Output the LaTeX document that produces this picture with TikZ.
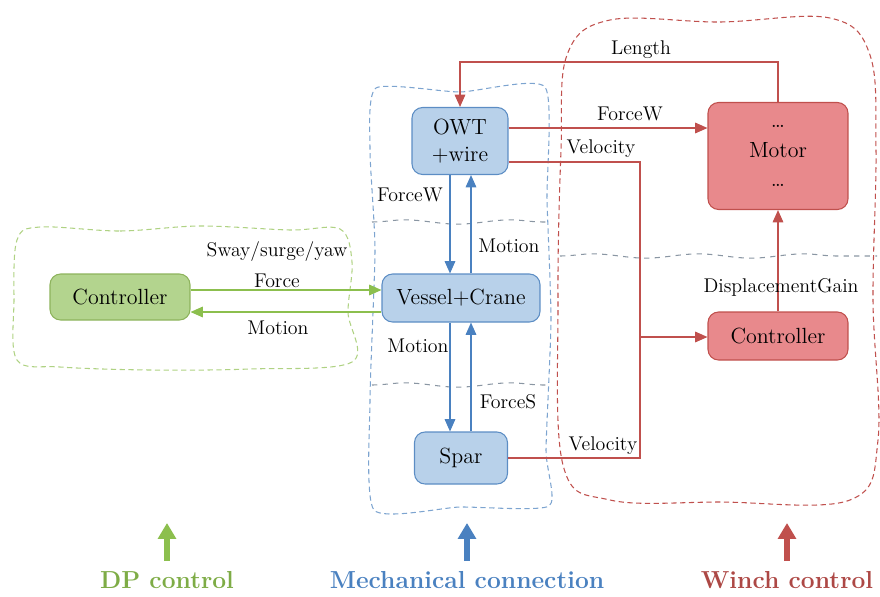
\documentclass[tikz,border=0pt]{standalone}
\usetikzlibrary{arrows.meta,decorations.pathmorphing}

\definecolor{dpgreen}{HTML}{8CBF4E}
\definecolor{dpfill}{HTML}{B3D48E}
\definecolor{dpedge}{HTML}{8DB35C}
\definecolor{mechblue}{HTML}{4A81C0}
\definecolor{mechfill}{HTML}{B8D1EA}
\definecolor{mechedge}{HTML}{5C8DC4}
\definecolor{winchred}{HTML}{C0504D}
\definecolor{winchfill}{HTML}{E8898C}
\definecolor{sepgray}{HTML}{8A96A3}

\begin{document}
\begin{tikzpicture}[
    x=0.02cm, y=-0.02cm,
    region/.style={densely dashed, line width=0.6pt},
    separator/.style={draw=sepgray, dashed, line width=0.6pt,
        decorate, decoration={snake, amplitude=1.2pt, segment length=60pt}},
    block/.style={draw, rounded corners=6pt, line width=0.6pt,
        align=center, font=\fontsize{12.5}{15}\selectfont, inner sep=2pt},
    dpbox/.style={block, draw=dpedge, fill=dpfill},
    mechbox/.style={block, draw=mechedge, fill=mechfill},
    winchbox/.style={block, draw=winchred, fill=winchfill},
    garrow/.style={draw=dpgreen, line width=0.8pt, -{Triangle[length=7pt, width=6pt]}},
    barrow/.style={draw=mechblue, line width=0.8pt, -{Triangle[length=7pt, width=6pt]}},
    rline/.style={draw=winchred, line width=0.8pt},
    rarrow/.style={rline, -{Triangle[length=7pt, width=6pt]}},
    signal/.style={font=\fontsize{11.3}{13}\selectfont, inner sep=1pt},
    legend arrow/.style={line width=3.2pt, -{Triangle[length=9pt, width=10pt]}},
    legend/.style={font=\fontsize{14}{16}\selectfont\bfseries}
]
    \path[use as bounding box] (0,0) rectangle (880,596);

    % The three regions, drawn as wobbly closed outlines.
    \draw[region, draw=dpgreen!70] plot[smooth cycle, tension=0.55] coordinates {
        (40,227) (120,231) (200,226) (290,230) (340,229) (352,262) (348,312)
        (352,362) (250,369) (150,370) (60,367) (17,360) (14,300) (17,240)};
    \draw[region, draw=mechedge!80] plot[smooth cycle, tension=0.35] coordinates {
        (376,88) (460,92) (545,87) (547,200) (551,320) (546,450) (549,506)
        (460,507) (374,510) (370,400) (375,250) (370,150)};
    \draw[region, draw=winchred] plot[smooth cycle, tension=0.6] coordinates {
        (610,20) (720,22) (830,18) (870,55) (876,150) (873,300) (878,440)
        (850,500) (720,502) (610,500) (563,465) (558,300) (561,150) (567,55)};
    \draw[separator] (372,222) -- (548,222);
    \draw[separator] (372,385) -- (548,385);
    \draw[separator] (560,256) -- (877,256);

    % Blocks.
    \node[dpbox, minimum width=2.8cm, minimum height=0.92cm] (dpctrl) at (120,297) {Controller};
    \node[mechbox, minimum width=1.92cm, minimum height=1.34cm] (owt) at (460,141) {OWT\\+wire};
    \node[mechbox, minimum width=3.16cm, minimum height=0.96cm] (vessel) at (461,298) {Vessel+Crane};
    \node[mechbox, minimum width=1.86cm, minimum height=1.04cm] (spar) at (461,458) {Spar};
    \node[winchbox, minimum width=2.8cm, minimum height=2.14cm] (motor) at (778,156) {\dots\\[2pt]Motor\\[2pt]\dots};
    \node[winchbox, minimum width=2.8cm, minimum height=0.96cm] (wctrl) at (778,336) {Controller};

    % DP control loop.
    \draw[garrow] (dpctrl.east |- 0,290) -- (vessel.west |- 0,290);
    \draw[garrow] (vessel.west |- 0,312) -- (dpctrl.east |- 0,312);
    \node[signal] (swaylbl) at (277,252) {Sway/surge/yaw};
    \node[signal] (forcelbl) at (277,281) {Force};
    \node[signal] (dpmotionlbl) at (278,328) {Motion};

    % Mechanical connection.
    \draw[barrow] (owt.south -| 450,0) -- (vessel.north -| 450,0);
    \draw[barrow] (vessel.north -| 471,0) -- (owt.south -| 471,0);
    \draw[barrow] (vessel.south -| 450,0) -- (spar.north -| 450,0);
    \draw[barrow] (spar.north -| 471,0) -- (vessel.south -| 471,0);
    \node[signal] (forcewlbl) at (410,195) {ForceW};
    \node[signal] (motionuplbl) at (509,246) {Motion};
    \node[signal] (motiondnlbl) at (418,346) {Motion};
    \node[signal] (forceslbl) at (508,402) {ForceS};

    % Winch control.
    \coordinate (velojoin) at (640,337);
    \draw[rarrow] (motor.north) |- (owt.north |- 0,62) -- (owt.north);
    \draw[rarrow] (owt.east |- 0,128) -- (motor.west |- 0,128);
    \draw[rline] (owt.east |- 0,162) -| (640,458) -- (spar.east |- 0,458);
    \draw[rarrow] (velojoin) -- (wctrl.west |- velojoin);
    \draw[rarrow] (wctrl.north) -- (motor.south);
    \node[signal] (lengthlbl) at (641,50) {Length};
    \node[signal] (forcew2lbl) at (630,114) {ForceW};
    \node[signal] (velo1lbl) at (601,149) {Velocity};
    \node[signal] (velo2lbl) at (603,446) {Velocity};
    \node[signal] (gainlbl) at (781,287) {DisplacementGain};

    % Legend.
    \draw[legend arrow, draw=dpgreen] (167,561) -- (167,523);
    \draw[legend arrow, draw=mechblue] (467,561) -- (467,523);
    \draw[legend arrow, draw=winchred] (787,561) -- (787,523);
    \node[legend, text=dpgreen!90!black] (dplbl) at (167,580) {DP control};
    \node[legend, text=mechblue] (mechlbl) at (467,580) {Mechanical connection};
    \node[legend, text=winchred!90!black] (winchlbl) at (787,580) {Winch control};
\end{tikzpicture}
\end{document}
